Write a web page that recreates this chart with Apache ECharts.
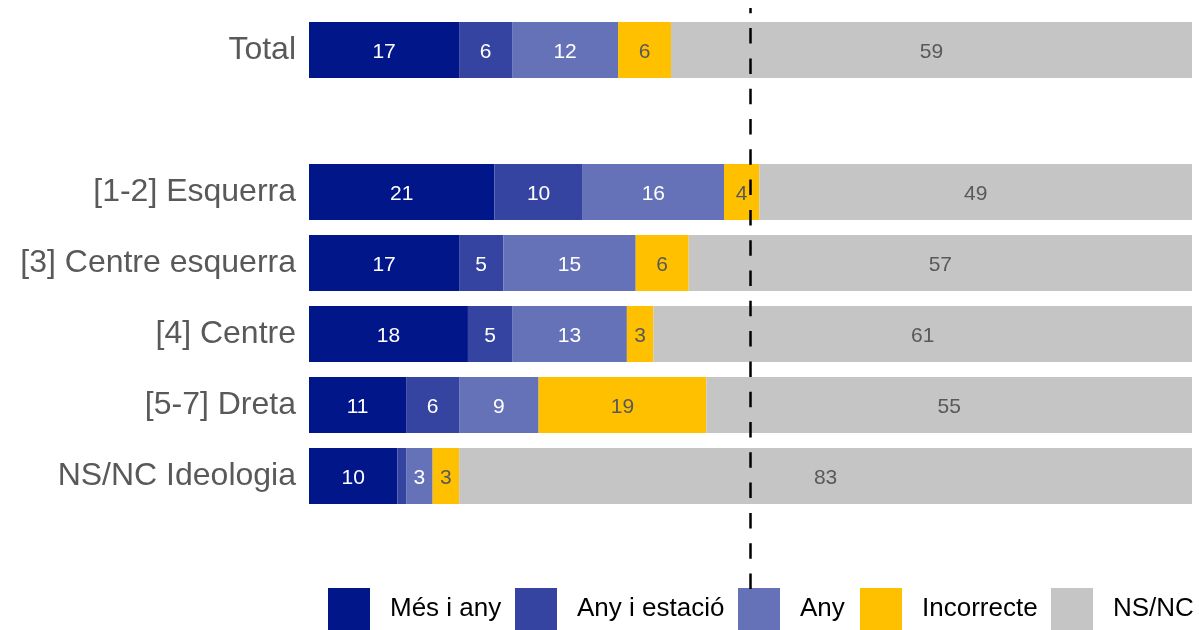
<!DOCTYPE html>
<html>
<head>
<meta charset="utf-8">
<script src="https://cdn.jsdelivr.net/npm/echarts@6/dist/echarts.min.js"></script>
<style>
  html, body { margin: 0; padding: 0; background: #fff; }
  #chart { width: 1199px; height: 630px; }
</style>
</head>
<body>
<div id="chart"></div>
<script>
// Rows, top to bottom (the blank row separates the total from the breakdown)
const categories = ['Total', ' ', '[1-2] Esquerra', '[3] Centre esquerra', '[4] Centre', '[5-7] Dreta', 'NS/NC Ideologia'];

// Percentages per answer, one value per row (null for the spacer row)
const mesIAny      = [17, null, 21, 17, 18, 11, 10];
const anyIEstacio  = [6,  null, 10, 5,  5,  6,  1];
const anySol       = [12, null, 16, 15, 13, 9,  3];
const incorrecte   = [6,  null, 4,  6,  3,  19, 3];
const nsnc         = [59, null, 49, 57, 61, 55, 83];

const seriesNames  = ['Més i any', 'Any i estació', 'Any', 'Incorrecte', 'NS/NC'];
const seriesValues = [mesIAny, anyIEstacio, anySol, incorrecte, nsnc];
const seriesColors = ['#001689', '#3444A0', '#6672B7', '#FFC000', '#C5C5C5'];
const labelColors  = ['#FFFFFF', '#FFFFFF', '#FFFFFF', '#595959', '#595959'];

// Reference line at the 50% mark
const refLine = [[50, 0], [50, 1]];

// Legend square left edges
const legendLeft = [328, 515, 738, 860, 1051];

const FONT = '"Liberation Sans", Arial, sans-serif';

const chart = echarts.init(document.getElementById('chart'), null, { renderer: 'canvas' });

const barSeries = seriesNames.map((name, i) => ({
  name: name,
  type: 'bar',
  stack: 'total',
  xAxisIndex: 0,
  yAxisIndex: 0,
  barWidth: 56,
  itemStyle: { color: seriesColors[i] },
  data: seriesValues[i].map(v => v === null ? null : {
    value: v,
    label: { show: v >= 2 }
  }),
  label: {
    show: true,
    position: 'inside',
    offset: [0, 2],
    color: labelColors[i],
    fontFamily: FONT,
    fontSize: 21,
    formatter: p => p.value
  },
  emphasis: { disabled: true },
  z: 2
}));

const legends = seriesNames.map((name, i) => ({
  data: [name],
  left: legendLeft[i],
  top: 588,
  itemWidth: 42,
  itemHeight: 42,
  icon: 'rect',
  padding: 0,
  selectedMode: false,
  textStyle: {
    color: '#000',
    fontFamily: FONT,
    fontSize: 26,
    padding: [5, 0, 0, 15]
  }
}));

chart.setOption({
  animation: false,
  backgroundColor: '#fff',
  legend: legends,
  grid: [
    { left: 309, width: 883, top: 14.5, height: 497, containLabel: false },
    { left: 309, width: 883, top: 8, height: 581, containLabel: false }
  ],
  xAxis: [
    { type: 'value', gridIndex: 0, min: 0, max: 100, show: false },
    { type: 'value', gridIndex: 1, min: 0, max: 100, show: false }
  ],
  yAxis: [
    {
      type: 'category',
      gridIndex: 0,
      inverse: true,
      data: categories,
      axisLine: { show: false },
      axisTick: { show: false },
      axisLabel: {
        color: '#595959',
        fontFamily: FONT,
        fontSize: 32,
        margin: 13,
        padding: [8, 0, 0, 0]
      }
    },
    { type: 'value', gridIndex: 1, min: 0, max: 1, show: false }
  ],
  series: barSeries.concat([{
    name: 'ref',
    type: 'line',
    xAxisIndex: 1,
    yAxisIndex: 1,
    data: refLine,
    symbol: 'none',
    silent: true,
    lineStyle: { color: '#000', width: 2.5, type: [15.5, 14.8] },
    z: 5
  }])
});
</script>
</body>
</html>
